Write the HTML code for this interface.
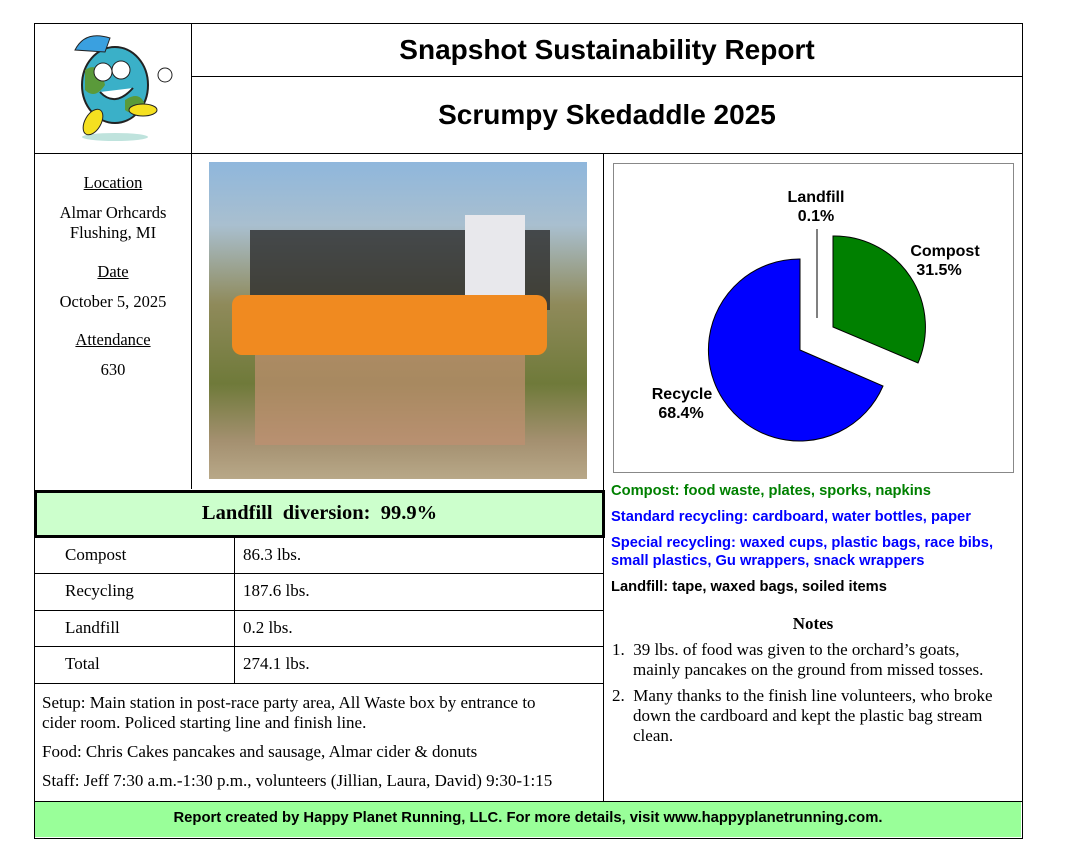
<!DOCTYPE html>
<html><head><style>
body{margin:0;width:1065px;height:865px;background:#fff;position:relative;overflow:hidden;font-family:"Liberation Serif",serif;color:#000}
.a{position:absolute}
.h{background:#000}
.s{font-family:"Liberation Sans",sans-serif;font-weight:bold}
.t{font-size:17px}
</style></head><body>
<div class="a" style="left:34px;top:23px;width:987px;height:814px;border:1px solid #000"></div>
<div class="a h" style="left:191px;top:23px;width:1px;height:466px"></div>
<div class="a h" style="left:191px;top:76px;width:831px;height:1px"></div>
<div class="a h" style="left:34px;top:153px;width:988px;height:1px"></div>
<div class="a h" style="left:603px;top:153px;width:1px;height:649px"></div>
<div class="a h" style="left:34px;top:801px;width:988px;height:1px"></div>
<div class="a" style="left:35px;top:802px;width:986px;height:35px;background:#99ff99"></div>
<div class="a s" style="left:35px;top:810px;width:986px;text-align:center;font-size:14.8px">Report created by Happy Planet Running, LLC. For more details, visit www.happyplanetrunning.com.</div>

<div class="a s" style="left:192px;top:34px;width:830px;text-align:center;font-size:28px">Snapshot Sustainability Report</div>
<div class="a s" style="left:192px;top:99px;width:830px;text-align:center;font-size:28px">Scrumpy Skedaddle 2025</div>

<svg class="a" style="left:55px;top:30px" width="120" height="115">
<ellipse cx="60" cy="107" rx="33" ry="4" fill="#bfe3dd"/>
<ellipse cx="60" cy="55" rx="33" ry="38" fill="#3ab0c8" stroke="#222" stroke-width="2"/>
<path d="M30 40 Q45 30 50 55 Q40 70 30 60Z M70 70 Q85 60 90 75 Q80 88 70 80Z" fill="#5a9a3a"/>
<path d="M20 20 Q30 0 55 8 L50 22Z" fill="#3aa0e0" stroke="#222"/>
<circle cx="48" cy="42" r="9" fill="#fff" stroke="#222"/><circle cx="66" cy="40" r="9" fill="#fff" stroke="#222"/>
<path d="M45 62 Q60 78 78 58" fill="#fff" stroke="#222" stroke-width="2"/>
<ellipse cx="38" cy="92" rx="8" ry="14" fill="#f5e020" stroke="#222" transform="rotate(30 38 92)"/>
<ellipse cx="88" cy="80" rx="14" ry="6" fill="#f5e020" stroke="#222"/>
<circle cx="110" cy="45" r="7" fill="#fff" stroke="#222"/>
</svg>

<div class="a" style="left:35px;top:173px;width:156px;text-align:center;font-size:16.5px;line-height:20px">
<div style="text-decoration:underline">Location</div>
<div style="margin-top:10px">Almar Orhcards<br>Flushing, MI</div>
<div style="margin-top:19px;text-decoration:underline">Date</div>
<div style="margin-top:10px">October 5, 2025</div>
<div style="margin-top:18px;text-decoration:underline">Attendance</div>
<div style="margin-top:10px">630</div>
</div>

<div class="a" style="left:209px;top:162px;width:378px;height:317px;background:linear-gradient(180deg,#8fb7dc 0%,#a9bfcf 20%,#8f8a5a 45%,#6f7a3a 70%,#a49070 88%,#b8a888 100%)"></div>
<div class="a" style="left:250px;top:230px;width:300px;height:80px;background:#2c2c2c;opacity:.8"></div>
<div class="a" style="left:465px;top:215px;width:60px;height:100px;background:#e8e8ec"></div>
<div class="a" style="left:232px;top:295px;width:315px;height:60px;background:#f08a20;border-radius:10px"></div>
<div class="a" style="left:255px;top:355px;width:270px;height:90px;background:#c09070;opacity:.7"></div>

<div class="a" style="left:613px;top:163px;width:399px;height:308px;border:1px solid #888"></div>
<svg class="a" style="left:0;top:0" width="1065" height="865">
<path d="M800 350 L800 259 A91 91 0 1 0 883 386 Z" fill="#0000ff" stroke="#000" stroke-width="1"/>
<path d="M833 327 L833 236 A91 91 0 0 1 918 363 Z" fill="#008000" stroke="#000" stroke-width="1"/>
<line x1="817" y1="229" x2="817" y2="318" stroke="#555" stroke-width="1.5"/>
<g font-family="Liberation Sans" font-weight="bold" font-size="16" text-anchor="middle">
<text x="816" y="202">Landfill</text><text x="816" y="221">0.1%</text>
<text x="945" y="256">Compost</text><text x="939" y="275">31.5%</text>
<text x="682" y="399">Recycle</text><text x="681" y="418">68.4%</text>
</g>
</svg>

<div class="a s" style="left:611px;top:482px;font-size:14.7px;line-height:18px">
<div style="color:#008000">Compost: food waste, plates, sporks, napkins</div>
<div style="color:#0000ff;margin-top:8px">Standard recycling: cardboard, water bottles, paper</div>
<div style="color:#0000ff;margin-top:8px">Special recycling: waxed cups, plastic bags, race bibs,<br>small plastics, Gu wrappers, snack wrappers</div>
<div style="margin-top:8px">Landfill: tape, waxed bags, soiled items</div>
</div>
<div class="a" style="left:604px;top:614px;width:418px;text-align:center;font-weight:bold;font-size:17px">Notes</div>
<div class="a t" style="left:612px;top:640px;width:396px;line-height:20px">
<div style="padding-left:21px;text-indent:-21px">1.&nbsp;&nbsp;39 lbs. of food was given to the orchard’s goats, mainly pancakes on the ground from missed tosses.</div>
<div style="padding-left:21px;text-indent:-21px;margin-top:6px">2.&nbsp;&nbsp;Many thanks to the finish line volunteers, who broke down the cardboard and kept the plastic bag stream clean.</div>
</div>

<div class="a" style="left:34px;top:490px;width:565px;height:42px;border:3px solid #000;background:#ccffcc"></div>
<div class="a" style="left:34px;top:502px;width:571px;text-align:center;font-weight:bold;font-size:20.5px">Landfill &nbsp;diversion: &nbsp;99.9%</div>
<div class="a h" style="left:234px;top:536px;width:1px;height:147px"></div>
<div class="a h" style="left:34px;top:573px;width:569px;height:1px"></div>
<div class="a h" style="left:34px;top:610px;width:569px;height:1px"></div>
<div class="a h" style="left:34px;top:646px;width:569px;height:1px"></div>
<div class="a h" style="left:34px;top:683px;width:569px;height:1px"></div>
<div class="a t" style="left:65px;top:545px">Compost</div><div class="a t" style="left:243px;top:545px">86.3 lbs.</div>
<div class="a t" style="left:65px;top:581px">Recycling</div><div class="a t" style="left:243px;top:581px">187.6 lbs.</div>
<div class="a t" style="left:65px;top:618px">Landfill</div><div class="a t" style="left:243px;top:618px">0.2 lbs.</div>
<div class="a t" style="left:65px;top:654px">Total</div><div class="a t" style="left:243px;top:654px">274.1 lbs.</div>
<div class="a t" style="left:42px;top:693px;width:530px;line-height:20px">
<div>Setup: Main station in post-race party area, All Waste box by entrance to cider room. Policed starting line and finish line.</div>
<div style="margin-top:9px">Food: Chris Cakes pancakes and sausage, Almar cider &amp; donuts</div>
<div style="margin-top:9px;white-space:nowrap">Staff: Jeff 7:30 a.m.-1:30 p.m., volunteers (Jillian, Laura, David) 9:30-1:15</div>
</div>
</body></html>
